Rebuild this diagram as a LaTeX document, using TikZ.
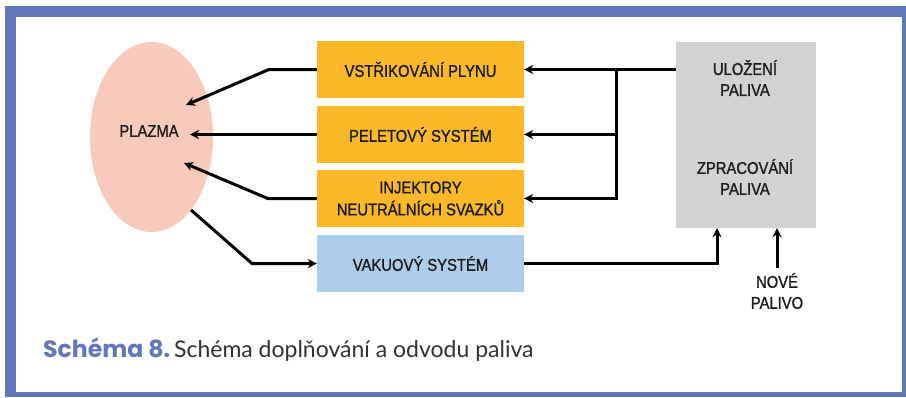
\documentclass[tikz,border=0pt]{standalone}
\usepackage{fontspec}
\setmainfont{Liberation Sans}
\newfontfamily\labelfont{Liberation Sans}[FakeStretch=0.87,FakeBold=1.2]
\newfontfamily\capbold{Poppins}
\newfontfamily\capfont{Lato}
\usepackage{tikz}
\usetikzlibrary{shapes.geometric, arrows.meta, positioning, calc}
\definecolor{framebl}{RGB}{98,119,185}
\definecolor{plasmapink}{RGB}{248,202,188}
\definecolor{fuelorange}{RGB}{251,185,42}
\definecolor{vacblue}{RGB}{173,206,234}
\definecolor{storegray}{RGB}{209,210,212}
\definecolor{labeltext}{RGB}{28,28,28}
\definecolor{captext}{RGB}{50,50,50}
\tikzset{
  basebox/.style={rectangle,inner sep=0pt,align=center,text=labeltext,font=\labelfont\fontsize{17}{22}\selectfont},
  fuelnode/.style={basebox,fill=fuelorange,minimum width=207pt,minimum height=57pt},
  vacnode/.style={basebox,fill=vacblue,minimum width=207pt,minimum height=57pt},
  storenode/.style={basebox,fill=storegray,minimum width=140pt,minimum height=186pt},
  plasmanode/.style={ellipse,fill=plasmapink,inner sep=0pt,minimum width=123pt,minimum height=190pt},
  txtnode/.style={align=center,inner sep=1pt,text=labeltext,font=\labelfont\fontsize{17}{21}\selectfont},
  arr/.style={-{Stealth[length=9pt,width=9pt]},line width=3pt,color=black}
}
\begin{document}
\begin{tikzpicture}[x=1pt,y=-1pt]
  \useasboundingbox (0,0) rectangle (906,397);
  \fill[framebl] (5,6) rectangle (906,397);
  \fill[white] (16,17) rectangle (902,392);

  \node[plasmanode] (plasma) at (151.5,137) {};
  \node[txtnode] (plasmatxt) at (149,131) {PLAZMA};

  \node[fuelnode] (gas) at (420.5,69.5) {VSTŘIKOVÁNÍ PLYNU};
  \node[fuelnode] (pellet) at (420.5,134.5) {PELETOVÝ SYSTÉM};
  \node[fuelnode] (nbi) at (420.5,198.5) {INJEKTORY\\NEUTRÁLNÍCH SVAZKŮ};
  \node[vacnode] (vac) at (420.5,263.5) {VAKUOVÝ SYSTÉM};

  \node[storenode] (store) at (746,135) {};
  \node[txtnode] (storage) at (745,78) {ULOŽENÍ\\PALIVA};
  \node[txtnode] (process) at (745,177) {ZPRACOVÁNÍ\\PALIVA};
  \node[txtnode] (newfuel) at (777,291) {NOVÉ\\PALIVO};

  \coordinate (in1) at (186,105);
  \coordinate (in2) at (190,134.5);
  \coordinate (in3) at (184,163);
  \coordinate (out1) at (191,210);
  \coordinate (split) at (616,0);
  \coordinate (back) at (717,0);

  \draw[arr] (store.west |- gas.east) -- (gas.east);
  \draw[arr] (split |- gas.east) |- (pellet.east);
  \draw[arr] (split |- gas.east) |- (nbi.east);

  \draw[arr] (gas.west) -- ++(-48,0) -- (in1);
  \draw[arr] (pellet.west) -- (in2);
  \draw[arr] (nbi.west) -- ++(-49,0) -- (in3);
  \draw[arr] (out1) -- (252,263.5) -- (vac.west);

  \draw[arr] (vac.east) -| (back |- store.south);
  \draw[arr] (newfuel.north) ++(0,-4) -- (newfuel |- store.south);

  \node[anchor=base west,inner sep=0pt] (caption) at (43,357)
      {{\capbold\bfseries\fontsize{23.6}{27}\selectfont\color{framebl}Schéma 8.}
       {\capfont\fontsize{23}{27}\selectfont\color{captext}Schéma doplňování a odvodu paliva}};
\end{tikzpicture}
\end{document}
